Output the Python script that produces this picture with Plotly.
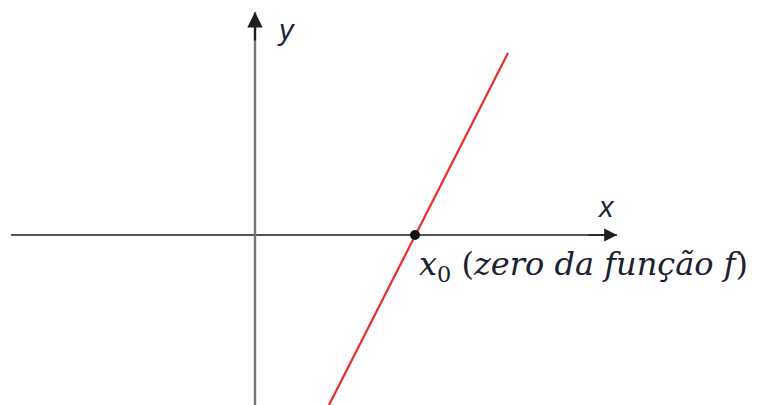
import plotly.graph_objects as go

# Data (in plot units; origin at the axes crossing)
line_x = [74, 253]
line_y = [-170, 182]
zero_x = [160]
zero_y = [0]
x_axis_span = [-244, 362]
y_axis_span = [-170, 223]
label_x = "<i>x</i>"
label_y = "<i>y</i>"
label_zero = "<i>x</i><sub>0</sub> (<i>zero da função f</i>)"

fig = go.Figure()

# x axis line
fig.add_trace(go.Scatter(x=x_axis_span, y=[0, 0], mode="lines",
                         line=dict(color="#1e1e1e", width=1.6), hoverinfo="skip"))
# y axis line
fig.add_trace(go.Scatter(x=[0, 0], y=y_axis_span, mode="lines",
                         line=dict(color="#777777", width=2.4), hoverinfo="skip"))
# red function line
fig.add_trace(go.Scatter(x=line_x, y=line_y, mode="lines",
                         line=dict(color="#ee2b2b", width=2.2), hoverinfo="skip"))
# zero point
fig.add_trace(go.Scatter(x=zero_x, y=zero_y, mode="markers",
                         marker=dict(color="#111111", size=10), hoverinfo="skip"))

# arrowheads
fig.add_annotation(x=x_axis_span[1], y=0, ax=x_axis_span[1] - 30, ay=0,
                   xref="x", yref="y", axref="x", ayref="y", text="",
                   showarrow=True, arrowhead=2, arrowsize=1.6, arrowwidth=1.6,
                   arrowcolor="#1e1e1e")
fig.add_annotation(x=0, y=y_axis_span[1], ax=0, ay=y_axis_span[1] - 30,
                   xref="x", yref="y", axref="x", ayref="y", text="",
                   showarrow=True, arrowhead=2, arrowsize=1.4, arrowwidth=2.2,
                   arrowcolor="#1e1e1e")

# labels
fig.add_annotation(x=351, y=28, text=label_x, showarrow=False,
                   font=dict(family="Liberation Sans", size=29, color="#1c2540"))
fig.add_annotation(x=31, y=205, text=label_y, showarrow=False,
                   font=dict(family="Liberation Sans", size=29, color="#1c2540"))
fig.add_annotation(x=162, y=-8, text=label_zero, showarrow=False,
                   xanchor="left", yanchor="top",
                   font=dict(family="DejaVu Serif", size=32, color="#1c2030"))

fig.update_layout(
    width=758, height=405,
    margin=dict(l=0, r=0, t=0, b=0),
    paper_bgcolor="white", plot_bgcolor="white",
    showlegend=False,
    xaxis=dict(range=[-255, 503], visible=False, fixedrange=True),
    yaxis=dict(range=[-170, 235], visible=False, fixedrange=True),
)

fig.write_html("out.html", config={"displayModeBar": False},
               post_script="document.body.style.margin='0';document.body.style.overflow='hidden';")
